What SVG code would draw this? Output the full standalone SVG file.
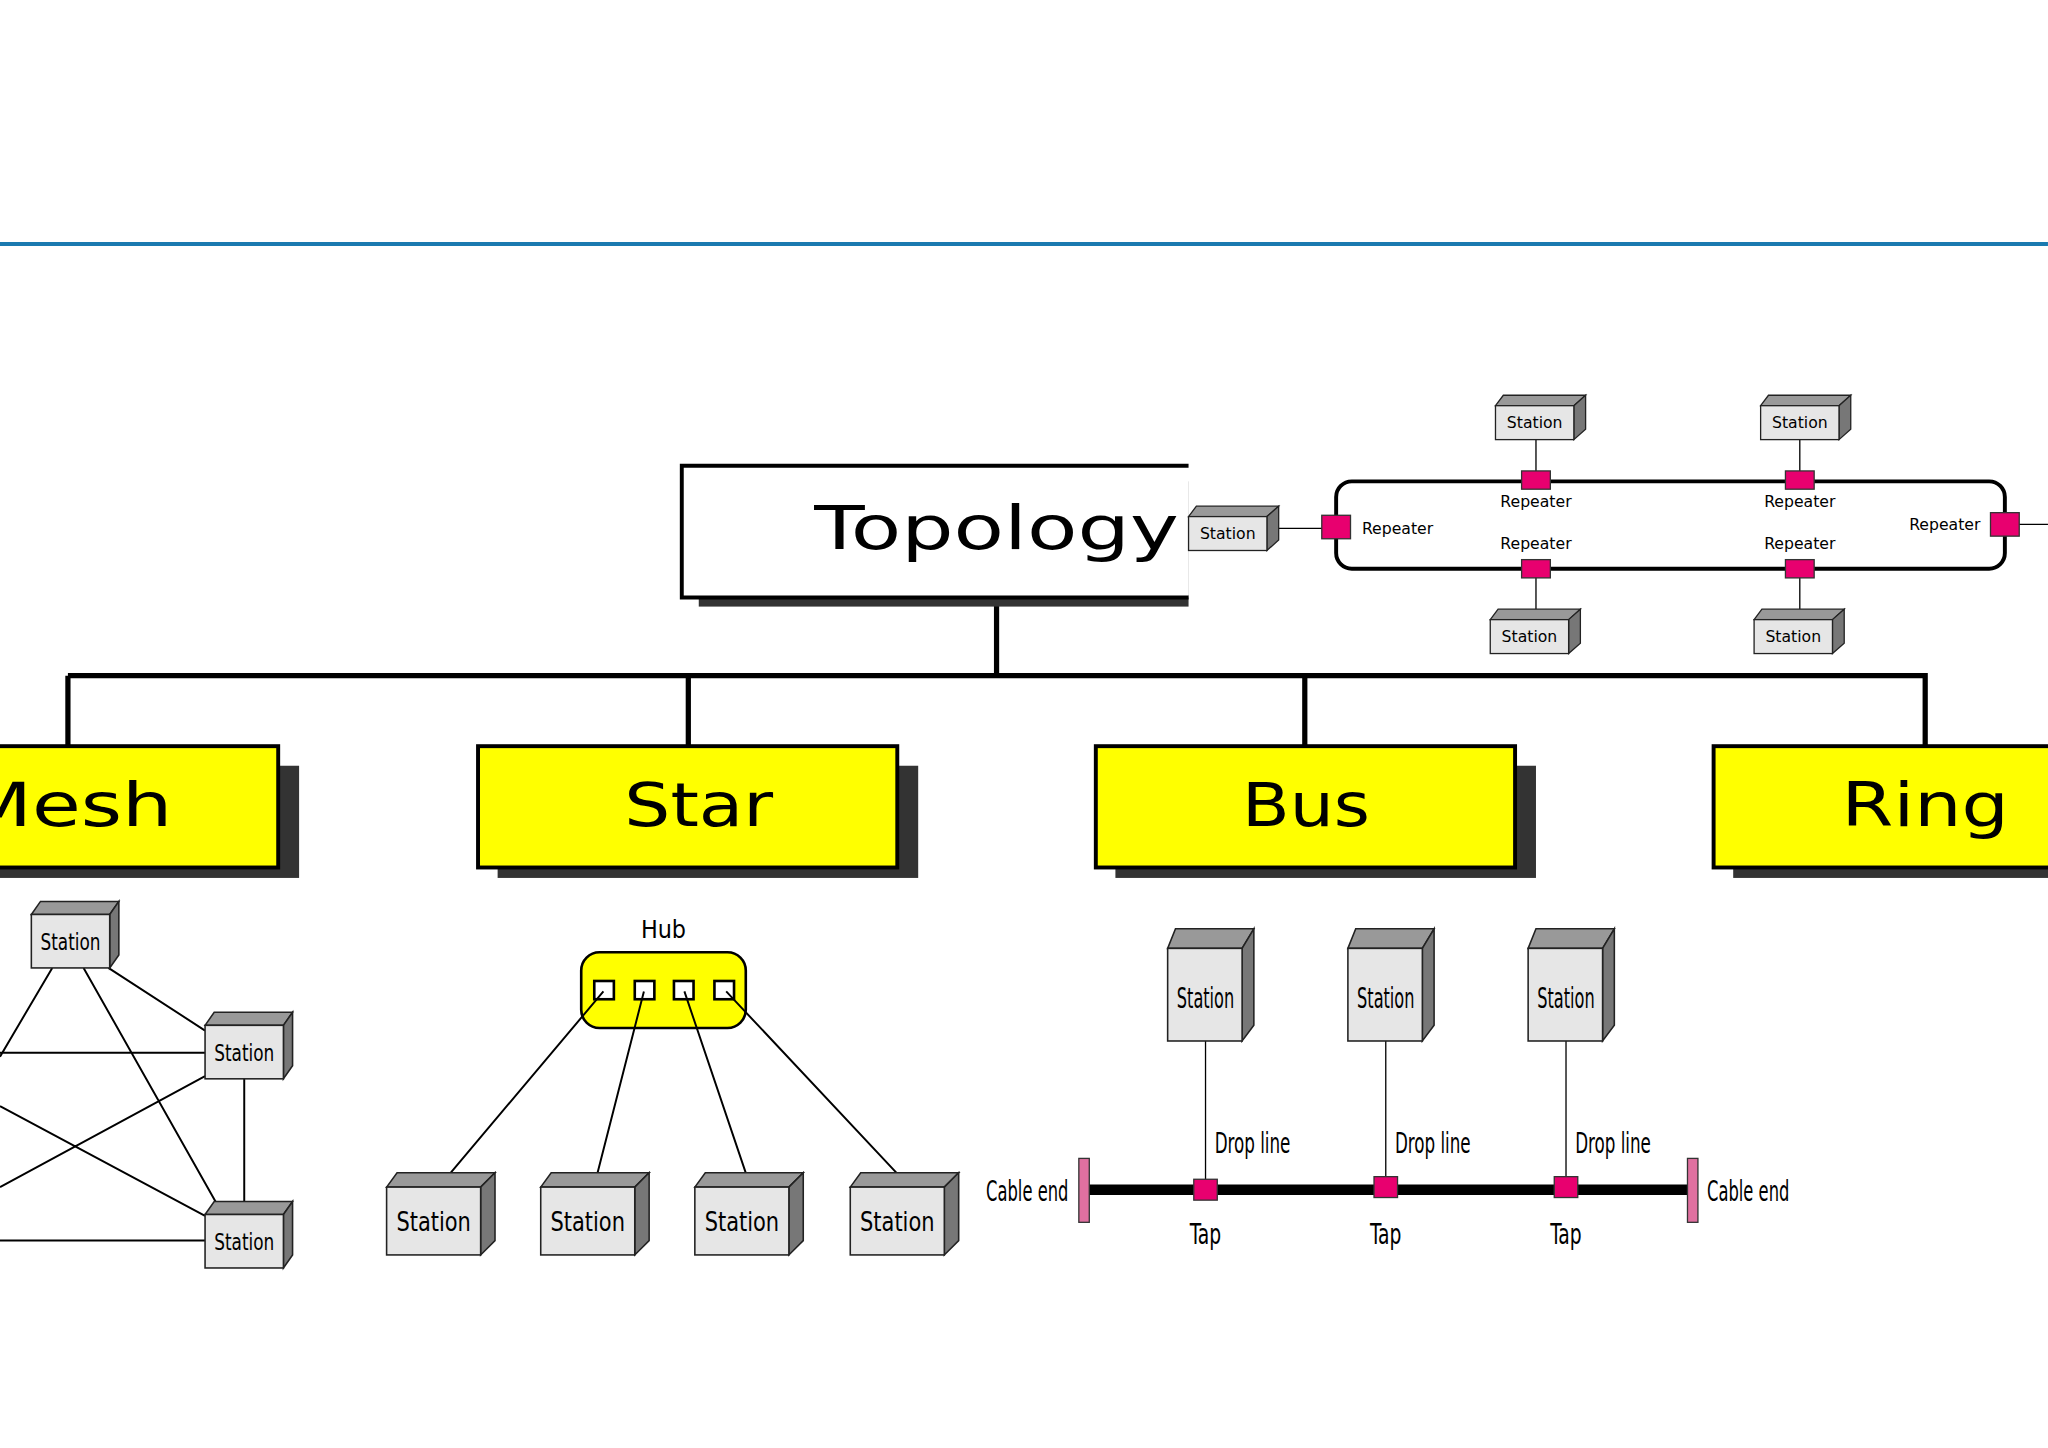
<svg xmlns="http://www.w3.org/2000/svg" xmlns:xlink="http://www.w3.org/1999/xlink" width="2048" height="1448" viewBox="0 0 2048 1448">
<style>
.big{font-family:"DejaVu Sans",sans-serif;font-size:46px;fill:#000;text-anchor:middle}
.lbl{font-family:"DejaVu Sans",sans-serif;fill:#000;text-anchor:middle}
.c{font-family:"DejaVu Sans Condensed","DejaVu Sans",sans-serif;fill:#000}
.ln{stroke:#000;fill:none}
.ybox{fill:#ffff00;stroke:#000;stroke-width:3}
.shadow{fill:#333}
.rep{fill:#e8006f;stroke:#333;stroke-width:1}
</style>
<defs>
<symbol id="s1" overflow="visible">
<polygon points="0,8 6,0 69,0 60,8" fill="#999" stroke="#222" stroke-width="1"/>
<polygon points="60,8 69,0 69,26 60,34" fill="#777" stroke="#222" stroke-width="1"/>
<rect x="0" y="8" width="60" height="26" fill="#e6e6e6" stroke="#222" stroke-width="1"/>
</symbol>
<symbol id="s2" overflow="visible">
<polygon points="0,11 8,0 83,0 72,11" fill="#999" stroke="#222" stroke-width="1.2"/>
<polygon points="72,11 83,0 83,52 72,63" fill="#777" stroke="#222" stroke-width="1.2"/>
<rect x="0" y="11" width="72" height="52" fill="#e6e6e6" stroke="#222" stroke-width="1.2"/>
</symbol>
<symbol id="s3" overflow="visible">
<polygon points="0,15 6,0 66,0 57,15" fill="#999" stroke="#222" stroke-width="1.2"/>
<polygon points="57,15 66,0 66,74 57,86" fill="#777" stroke="#222" stroke-width="1.2"/>
<rect x="0" y="15" width="57" height="71" fill="#e6e6e6" stroke="#222" stroke-width="1.2"/>
</symbol>
<symbol id="s4" overflow="visible">
<polygon points="0,10 7,0 67,0 60,10" fill="#999" stroke="#222" stroke-width="1.2"/>
<polygon points="60,10 67,0 67,41 60,51" fill="#777" stroke="#222" stroke-width="1.2"/>
<rect x="0" y="10" width="60" height="41" fill="#e6e6e6" stroke="#222" stroke-width="1.2"/>
</symbol>
</defs>
<rect width="2048" height="1448" fill="#fff"/>
<g transform="scale(1.3061,1.3045)">
<line x1="0" y1="187" x2="1568" y2="187" stroke="#1a7ab0" stroke-width="3"/>

<g id="hub-shape">
<text class="c" font-size="19" x="508" y="719" text-anchor="middle">Hub</text>
<rect x="445" y="730" width="126" height="58" rx="14" fill="#ffff00" stroke="#000" stroke-width="2"/>
<g fill="#fff" stroke="#000" stroke-width="2">
<rect x="455" y="752" width="15" height="14"/><rect x="486" y="752" width="15" height="14"/>
<rect x="516" y="752" width="15" height="14"/><rect x="547" y="752" width="15" height="14"/>
</g>
</g>

<g id="connectors">
<path class="ln" stroke-width="4" d="M763,460 V518 M52,518 H1476 M52,518 V572 M527,518 V572 M999,518 V572 M1474,518 V572"/>
<path class="ln" stroke-width="1.5" d="M40,742 L0,810 M64,742 L165,921 M83,742 L157,790 M0,807 H157 M187,827 V921 M157,825 L0,910 M0,848 L157,932 M0,951 H157"/>
<path class="ln" stroke-width="1.5" d="M462,760 L340,905 M493,760 L456,905 M524,760 L573,905 M556,760 L692,905"/>
<path class="ln" stroke-width="1" d="M923,798 V912 M1061,798 V912 M1199,798 V912"/>
<path class="ln" stroke-width="1" d="M1176,337 V368 M1378,337 V368 M1176,436 V467 M1378,436 V467 M978,405 H1023 M1535,402 H1568"/>
</g>

<g id="topology">
<rect x="535" y="369" width="375" height="96" class="shadow"/>
<path d="M910,357 H522 V458 H910" fill="#fff" stroke="#000" stroke-width="3"/>
<rect x="524" y="359" width="386" height="97" fill="#fff"/>
<text class="big" x="763" y="421" font-size="48" textLength="279" lengthAdjust="spacingAndGlyphs">Topology</text>
</g>

<g id="mesh">
<rect x="-93" y="587" width="322" height="86" class="shadow"/>
<rect x="-108" y="572" width="321" height="93" class="ybox"/>
<text class="big" x="52" y="633" textLength="160" lengthAdjust="spacingAndGlyphs">Mesh</text>
</g>
<g id="star">
<rect x="381" y="587" width="322" height="86" class="shadow"/>
<rect x="366" y="572" width="321" height="93" class="ybox"/>
<text class="big" x="535" y="633" textLength="114" lengthAdjust="spacingAndGlyphs">Star</text>
</g>
<g id="bus">
<rect x="854" y="587" width="322" height="86" class="shadow"/>
<rect x="839" y="572" width="321" height="93" class="ybox"/>
<text class="big" x="1000" y="633" textLength="98" lengthAdjust="spacingAndGlyphs">Bus</text>
</g>
<g id="ring">
<rect x="1327" y="587" width="322" height="86" class="shadow"/>
<rect x="1312" y="572" width="321" height="93" class="ybox"/>
<text class="big" x="1474" y="633" textLength="128" lengthAdjust="spacingAndGlyphs">Ring</text>
</g>

<g id="ring-network">
<rect x="1023" y="369" width="512" height="67" rx="12" fill="none" stroke="#000" stroke-width="3"/>
<rect class="rep" x="1165" y="361" width="22" height="14"/>
<rect class="rep" x="1367" y="361" width="22" height="14"/>
<rect class="rep" x="1165" y="429" width="22" height="14"/>
<rect class="rep" x="1367" y="429" width="22" height="14"/>
<rect class="rep" x="1012" y="395" width="22" height="18"/>
<rect class="rep" x="1524" y="393" width="22" height="18"/>
<g class="lbl" font-size="12">
<text x="1176" y="389">Repeater</text><text x="1378" y="389">Repeater</text>
<text x="1176" y="421">Repeater</text><text x="1378" y="421">Repeater</text>
<text x="1070" y="409">Repeater</text><text x="1489" y="406">Repeater</text>
</g>
<g id="ring-st1"><use href="#s1" x="1145" y="303"/><text class="lbl" font-size="12" x="1175" y="328">Station</text></g>
<g id="ring-st2"><use href="#s1" x="1348" y="303"/><text class="lbl" font-size="12" x="1378" y="328">Station</text></g>
<g id="ring-st3"><use href="#s1" x="910" y="388"/><text class="lbl" font-size="12" x="940" y="413">Station</text></g>
<g id="ring-st4"><use href="#s1" x="1141" y="467"/><text class="lbl" font-size="12" x="1171" y="492">Station</text></g>
<g id="ring-st5"><use href="#s1" x="1343" y="467"/><text class="lbl" font-size="12" x="1373" y="492">Station</text></g>
</g>

<g id="mesh-network">
<g id="mesh-st1"><use href="#s4" x="24" y="691"/><text class="c" font-size="17" x="54" y="728" text-anchor="middle" textLength="46" lengthAdjust="spacingAndGlyphs">Station</text></g>
<g id="mesh-st2"><use href="#s4" x="157" y="776"/><text class="c" font-size="17" x="187" y="813" text-anchor="middle" textLength="46" lengthAdjust="spacingAndGlyphs">Station</text></g>
<g id="mesh-st3"><use href="#s4" x="157" y="921"/><text class="c" font-size="17" x="187" y="958" text-anchor="middle" textLength="46" lengthAdjust="spacingAndGlyphs">Station</text></g>
</g>

<g id="star-network">
<g id="star-st1"><use href="#s2" x="296" y="899"/><text class="c" font-size="21" x="332" y="944" text-anchor="middle" textLength="57" lengthAdjust="spacingAndGlyphs">Station</text></g>
<g id="star-st2"><use href="#s2" x="414" y="899"/><text class="c" font-size="21" x="450" y="944" text-anchor="middle" textLength="57" lengthAdjust="spacingAndGlyphs">Station</text></g>
<g id="star-st3"><use href="#s2" x="532" y="899"/><text class="c" font-size="21" x="568" y="944" text-anchor="middle" textLength="57" lengthAdjust="spacingAndGlyphs">Station</text></g>
<g id="star-st4"><use href="#s2" x="651" y="899"/><text class="c" font-size="21" x="687" y="944" text-anchor="middle" textLength="57" lengthAdjust="spacingAndGlyphs">Station</text></g>
</g>

<g id="bus-network">
<line x1="830" y1="912" x2="1295" y2="912" stroke="#000" stroke-width="8"/>
<rect x="826" y="888" width="8" height="49" fill="#e070a0" stroke="#333" stroke-width="1"/>
<rect x="1292" y="888" width="8" height="49" fill="#e070a0" stroke="#333" stroke-width="1"/>
<rect class="rep" x="914" y="904" width="18" height="16"/>
<rect class="rep" x="1052" y="902" width="18" height="16"/>
<rect class="rep" x="1190" y="902" width="18" height="16"/>
<g class="c" font-size="22">
<text x="818" y="921" text-anchor="end" textLength="63" lengthAdjust="spacingAndGlyphs">Cable end</text>
<text x="1307" y="921" textLength="63" lengthAdjust="spacingAndGlyphs">Cable end</text>
<text x="930" y="884" textLength="58" lengthAdjust="spacingAndGlyphs">Drop line</text>
<text x="1068" y="884" textLength="58" lengthAdjust="spacingAndGlyphs">Drop line</text>
<text x="1206" y="884" textLength="58" lengthAdjust="spacingAndGlyphs">Drop line</text>
<text x="923" y="954" text-anchor="middle" textLength="24" lengthAdjust="spacingAndGlyphs">Tap</text>
<text x="1061" y="954" text-anchor="middle" textLength="24" lengthAdjust="spacingAndGlyphs">Tap</text>
<text x="1199" y="954" text-anchor="middle" textLength="24" lengthAdjust="spacingAndGlyphs">Tap</text>
</g>
<g id="bus-st1"><use href="#s3" x="894" y="712"/><text class="c" font-size="22" x="923" y="773" text-anchor="middle" textLength="44" lengthAdjust="spacingAndGlyphs">Station</text></g>
<g id="bus-st2"><use href="#s3" x="1032" y="712"/><text class="c" font-size="22" x="1061" y="773" text-anchor="middle" textLength="44" lengthAdjust="spacingAndGlyphs">Station</text></g>
<g id="bus-st3"><use href="#s3" x="1170" y="712"/><text class="c" font-size="22" x="1199" y="773" text-anchor="middle" textLength="44" lengthAdjust="spacingAndGlyphs">Station</text></g>
</g>
</g>
</svg>
